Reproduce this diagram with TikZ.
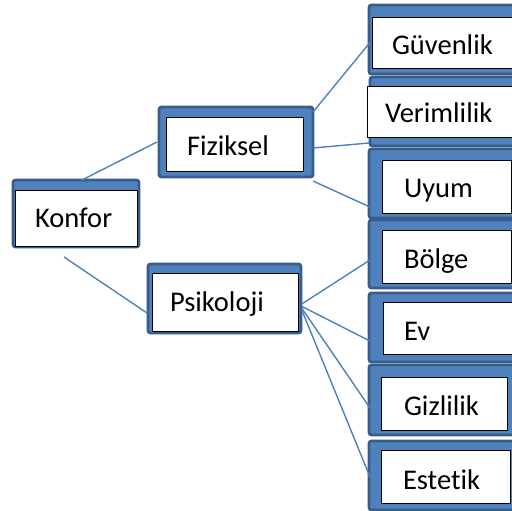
\documentclass[tikz,border=0pt]{standalone}
\usepackage{fontspec}
\setmainfont[Ligatures=NoCommon]{Carlito}
\begin{document}
\begin{tikzpicture}[x=1pt,y=-1pt,
  obox/.style={draw=blueedge,fill=bluefill,line width=2.8pt,rounded corners=2.5pt,inner sep=0pt,outer sep=0pt,anchor=north west},
  ibox/.style={draw=black,fill=white,line width=0.8pt,inner sep=0pt,outer sep=0pt,anchor=north west},
  txt/.style={inner sep=0pt,outer sep=0pt,anchor=base west,font=\fontsize{28.5}{30}\selectfont},
  conn/.style={draw=linecol,line width=1.4pt}]
\definecolor{blueedge}{HTML}{385D8A}
\definecolor{bluefill}{HTML}{4F81BD}
\definecolor{linecol}{HTML}{4F81BD}
\useasboundingbox (0,0) rectangle (512,511);
\fill[white] (0,0) rectangle (512,511);
% outer boxes
\node[obox,minimum width=126pt,minimum height=67pt] (konfor) at (13,180) {};
\node[obox,minimum width=154pt,minimum height=70pt] (fiz) at (159,107) {};
\node[obox,minimum width=153pt,minimum height=69pt] (psi) at (148,264) {};
\node[obox,minimum width=150pt,minimum height=69pt] (guv) at (369,5) {};
\node[obox,minimum width=150pt,minimum height=69pt] (ver) at (370,77) {};
\node[obox,minimum width=150pt,minimum height=69pt] (uyum) at (369,149) {};
\node[obox,minimum width=150pt,minimum height=68pt] (bolge) at (369,220) {};
\node[obox,minimum width=150pt,minimum height=69pt] (ev) at (369,293) {};
\node[obox,minimum width=150pt,minimum height=70pt] (giz) at (369,365) {};
\node[obox,minimum width=150pt,minimum height=69pt] (est) at (369,441) {};
% inner boxes
\node[ibox,minimum width=122pt,minimum height=56pt] (konforin) at (15,190) {};
\node[ibox,minimum width=137pt,minimum height=54pt] (fizin) at (166,117) {};
\node[ibox,minimum width=146pt,minimum height=58pt] (psiin) at (152,273) {};
\node[ibox,minimum width=150pt,minimum height=51pt] (guvin) at (372,17) {};
\node[ibox,minimum width=150pt,minimum height=51pt] (verin) at (367,86) {};
\node[ibox,minimum width=129pt,minimum height=53pt] (uyumin) at (382,160) {};
\node[ibox,minimum width=129pt,minimum height=53pt] (bolgein) at (382,230) {};
\node[ibox,minimum width=140pt,minimum height=52pt] (evin) at (383,302) {};
\node[ibox,minimum width=126pt,minimum height=53pt] (gizin) at (381,377) {};
\node[ibox,minimum width=129pt,minimum height=53pt] (estin) at (381,450) {};
% texts
\node[txt] (konfort) at (35,227) {Konfor};
\node[txt] (fizt) at (187,156) {Fiziksel};
\node[txt] (psit) at (170,311) {Psikoloji};
\node[txt] (guvt) at (392,55) {Güvenlik};
\node[txt] (vert) at (385,123) {Verimlilik};
\node[txt] (uyumt) at (404,197) {Uyum};
\node[txt] (bolget) at (404,268) {Bölge};
\node[txt] (evt) at (404,340) {Ev};
\node[txt] (gizt) at (404,415) {Gizlilik};
\node[txt] (estt) at (403,489) {Estetik};
% connectors
\draw[conn] ([shift={(6,0)}]konfor.north) -- ([shift={(-2,0)}]fiz.west);
\draw[conn] ([shift={(-12,10)}]konfor.south) -- ([shift={(-1,14.5)}]psi.west);
\draw[conn] ([shift={(0,5)}]fiz.north east) -- ([shift={(1,3)}]guv.west);
\draw[conn] ([shift={(0,6)}]fiz.east) -- ([shift={(-1,31.5)}]ver.west);
\draw[conn] ([shift={(0,4)}]fiz.south east) -- ([shift={(1,23.5)}]uyum.west);
\draw[conn] ([shift={(0,6)}]psi.east) -- ([shift={(1,6)}]bolge.west);
\draw[conn] ([shift={(1,8)}]psi.east) -- ([shift={(1,13.5)}]ev.west);
\draw[conn] ([shift={(1,10)}]psi.east) -- ([shift={(1,8)}]giz.west);
\draw[conn] ([shift={(1,12)}]psi.east) -- ([shift={(1,1.5)}]est.west);
\end{tikzpicture}
\end{document}
